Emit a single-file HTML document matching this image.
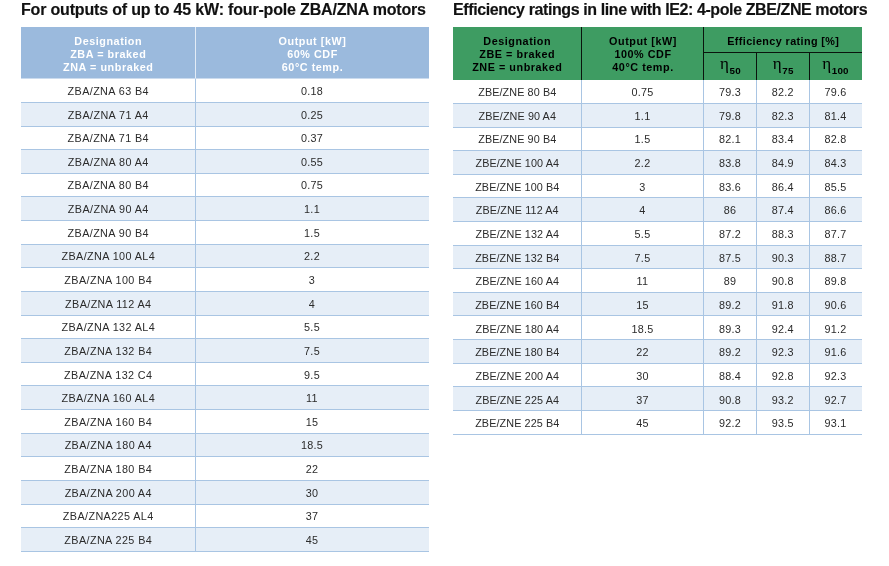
<!DOCTYPE html><html><head><meta charset="utf-8"><title>Motor tables</title><style>
html,body{margin:0;padding:0;background:#fff;}
body{width:889px;height:566px;position:relative;overflow:hidden;font-family:"Liberation Sans",sans-serif;color:#2b2b2b;}
.a{position:absolute;}
.t,.r,.h{will-change:transform;}
.t{position:absolute;white-space:nowrap;font-weight:bold;color:#111;-webkit-text-stroke:0.15px #111;font-size:16px;line-height:20px;letter-spacing:-0.18px;}
.r{position:absolute;left:0;right:0;}
.c{position:absolute;top:0;bottom:0;text-align:center;white-space:nowrap;font-size:10.8px;letter-spacing:0.3px;}
.h{position:absolute;text-align:center;white-space:nowrap;font-weight:bold;font-size:10.8px;line-height:13.2px;letter-spacing:0.55px;}
.l{position:absolute;background:#a9c5e3;}
.eta{font-family:"Liberation Serif",serif;font-weight:normal;font-size:17px;}
.sub{font-size:9.8px;position:relative;top:5.0px;letter-spacing:0.2px;}
</style></head><body>
<div class="t" id="t1" style="left:20.8px;top:-0.5px;">For outputs of up to 45 kW: four-pole ZBA/ZNA motors</div>
<div class="t" id="t2" style="left:453.2px;top:-0.5px;letter-spacing:-0.4px;">Efficiency ratings in line with IE2: 4-pole ZBE/ZNE motors</div>
<div class="a" id="tb1" style="left:21px;top:0;width:407.5px;height:566px;">
<div class="a" style="left:0;width:407.5px;top:27px;height:51px;background:#9bbadd;"></div>
<div class="a" style="left:0;width:407.5px;top:102px;height:24px;background:#e6eef7;"></div>
<div class="a" style="left:0;width:407.5px;top:149px;height:24px;background:#e6eef7;"></div>
<div class="a" style="left:0;width:407.5px;top:196px;height:24px;background:#e6eef7;"></div>
<div class="a" style="left:0;width:407.5px;top:244px;height:23px;background:#e6eef7;"></div>
<div class="a" style="left:0;width:407.5px;top:291px;height:24px;background:#e6eef7;"></div>
<div class="a" style="left:0;width:407.5px;top:338px;height:24px;background:#e6eef7;"></div>
<div class="a" style="left:0;width:407.5px;top:385px;height:24px;background:#e6eef7;"></div>
<div class="a" style="left:0;width:407.5px;top:433px;height:23px;background:#e6eef7;"></div>
<div class="a" style="left:0;width:407.5px;top:480px;height:24px;background:#e6eef7;"></div>
<div class="a" style="left:0;width:407.5px;top:527px;height:24px;background:#e6eef7;"></div>
<div class="l" style="left:0;width:407.5px;top:102px;height:1px;"></div>
<div class="l" style="left:0;width:407.5px;top:126px;height:1px;"></div>
<div class="l" style="left:0;width:407.5px;top:149px;height:1px;"></div>
<div class="l" style="left:0;width:407.5px;top:173px;height:1px;"></div>
<div class="l" style="left:0;width:407.5px;top:196px;height:1px;"></div>
<div class="l" style="left:0;width:407.5px;top:220px;height:1px;"></div>
<div class="l" style="left:0;width:407.5px;top:244px;height:1px;"></div>
<div class="l" style="left:0;width:407.5px;top:267px;height:1px;"></div>
<div class="l" style="left:0;width:407.5px;top:291px;height:1px;"></div>
<div class="l" style="left:0;width:407.5px;top:315px;height:1px;"></div>
<div class="l" style="left:0;width:407.5px;top:338px;height:1px;"></div>
<div class="l" style="left:0;width:407.5px;top:362px;height:1px;"></div>
<div class="l" style="left:0;width:407.5px;top:385px;height:1px;"></div>
<div class="l" style="left:0;width:407.5px;top:409px;height:1px;"></div>
<div class="l" style="left:0;width:407.5px;top:433px;height:1px;"></div>
<div class="l" style="left:0;width:407.5px;top:456px;height:1px;"></div>
<div class="l" style="left:0;width:407.5px;top:480px;height:1px;"></div>
<div class="l" style="left:0;width:407.5px;top:504px;height:1px;"></div>
<div class="l" style="left:0;width:407.5px;top:527px;height:1px;"></div>
<div class="l" style="left:0;width:407.5px;top:551px;height:1px;"></div>
<div class="l" style="left:174px;width:1px;top:78px;height:474px;"></div>
<div class="a" style="left:0;width:407.5px;top:78px;height:1px;background:#cbdbee;"></div><div class="a" style="left:174px;width:1px;top:27px;height:51px;background:#e3ecf6;"></div>
<div class="h" style="color:#fff;left:0;width:174.5px;top:35.2px;">Designation<br>ZBA = braked<br>ZNA = unbraked</div><div class="h" style="color:#fff;left:174.5px;width:233.0px;top:35.2px;">Output [kW]<br>60% CDF<br>60°C temp.</div>
<div class="r" style="top:79px;height:24px;line-height:24px;">
<div class="c" style="left:0px;width:174.5px;letter-spacing:0.4px;">ZBA/ZNA 63 B4</div>
<div class="c" style="left:174.5px;width:233.0px;">0.18</div>
</div>
<div class="r" style="top:103px;height:24px;line-height:24px;">
<div class="c" style="left:0px;width:174.5px;letter-spacing:0.4px;">ZBA/ZNA 71 A4</div>
<div class="c" style="left:174.5px;width:233.0px;">0.25</div>
</div>
<div class="r" style="top:126px;height:24px;line-height:24px;">
<div class="c" style="left:0px;width:174.5px;letter-spacing:0.4px;">ZBA/ZNA 71 B4</div>
<div class="c" style="left:174.5px;width:233.0px;">0.37</div>
</div>
<div class="r" style="top:150px;height:24px;line-height:24px;">
<div class="c" style="left:0px;width:174.5px;letter-spacing:0.4px;">ZBA/ZNA 80 A4</div>
<div class="c" style="left:174.5px;width:233.0px;">0.55</div>
</div>
<div class="r" style="top:173px;height:24px;line-height:24px;">
<div class="c" style="left:0px;width:174.5px;letter-spacing:0.4px;">ZBA/ZNA 80 B4</div>
<div class="c" style="left:174.5px;width:233.0px;">0.75</div>
</div>
<div class="r" style="top:197px;height:24px;line-height:24px;">
<div class="c" style="left:0px;width:174.5px;letter-spacing:0.4px;">ZBA/ZNA 90 A4</div>
<div class="c" style="left:174.5px;width:233.0px;">1.1</div>
</div>
<div class="r" style="top:221px;height:24px;line-height:24px;">
<div class="c" style="left:0px;width:174.5px;letter-spacing:0.4px;">ZBA/ZNA 90 B4</div>
<div class="c" style="left:174.5px;width:233.0px;">1.5</div>
</div>
<div class="r" style="top:244px;height:24px;line-height:24px;">
<div class="c" style="left:0px;width:174.5px;letter-spacing:0.4px;">ZBA/ZNA 100 AL4</div>
<div class="c" style="left:174.5px;width:233.0px;">2.2</div>
</div>
<div class="r" style="top:268px;height:24px;line-height:24px;">
<div class="c" style="left:0px;width:174.5px;letter-spacing:0.4px;">ZBA/ZNA 100 B4</div>
<div class="c" style="left:174.5px;width:233.0px;">3</div>
</div>
<div class="r" style="top:292px;height:24px;line-height:24px;">
<div class="c" style="left:0px;width:174.5px;letter-spacing:0.4px;">ZBA/ZNA 112 A4</div>
<div class="c" style="left:174.5px;width:233.0px;">4</div>
</div>
<div class="r" style="top:315px;height:24px;line-height:24px;">
<div class="c" style="left:0px;width:174.5px;letter-spacing:0.4px;">ZBA/ZNA 132 AL4</div>
<div class="c" style="left:174.5px;width:233.0px;">5.5</div>
</div>
<div class="r" style="top:339px;height:24px;line-height:24px;">
<div class="c" style="left:0px;width:174.5px;letter-spacing:0.4px;">ZBA/ZNA 132 B4</div>
<div class="c" style="left:174.5px;width:233.0px;">7.5</div>
</div>
<div class="r" style="top:363px;height:24px;line-height:24px;">
<div class="c" style="left:0px;width:174.5px;letter-spacing:0.4px;">ZBA/ZNA 132 C4</div>
<div class="c" style="left:174.5px;width:233.0px;">9.5</div>
</div>
<div class="r" style="top:386px;height:24px;line-height:24px;">
<div class="c" style="left:0px;width:174.5px;letter-spacing:0.4px;">ZBA/ZNA 160 AL4</div>
<div class="c" style="left:174.5px;width:233.0px;">11</div>
</div>
<div class="r" style="top:410px;height:24px;line-height:24px;">
<div class="c" style="left:0px;width:174.5px;letter-spacing:0.4px;">ZBA/ZNA 160 B4</div>
<div class="c" style="left:174.5px;width:233.0px;">15</div>
</div>
<div class="r" style="top:433px;height:24px;line-height:24px;">
<div class="c" style="left:0px;width:174.5px;letter-spacing:0.4px;">ZBA/ZNA 180 A4</div>
<div class="c" style="left:174.5px;width:233.0px;">18.5</div>
</div>
<div class="r" style="top:457px;height:24px;line-height:24px;">
<div class="c" style="left:0px;width:174.5px;letter-spacing:0.4px;">ZBA/ZNA 180 B4</div>
<div class="c" style="left:174.5px;width:233.0px;">22</div>
</div>
<div class="r" style="top:481px;height:24px;line-height:24px;">
<div class="c" style="left:0px;width:174.5px;letter-spacing:0.4px;">ZBA/ZNA 200 A4</div>
<div class="c" style="left:174.5px;width:233.0px;">30</div>
</div>
<div class="r" style="top:504px;height:24px;line-height:24px;">
<div class="c" style="left:0px;width:174.5px;letter-spacing:0.4px;">ZBA/ZNA225 AL4</div>
<div class="c" style="left:174.5px;width:233.0px;">37</div>
</div>
<div class="r" style="top:528px;height:24px;line-height:24px;">
<div class="c" style="left:0px;width:174.5px;letter-spacing:0.4px;">ZBA/ZNA 225 B4</div>
<div class="c" style="left:174.5px;width:233.0px;">45</div>
</div>
</div>
<div class="a" id="tb2" style="left:453px;top:0;width:409px;height:566px;">
<div class="a" style="left:0;width:409px;top:27px;height:53px;background:#3e9c62;"></div>
<div class="a" style="left:0;width:409px;top:103px;height:24px;background:#e6eef7;"></div>
<div class="a" style="left:0;width:409px;top:150px;height:24px;background:#e6eef7;"></div>
<div class="a" style="left:0;width:409px;top:197px;height:24px;background:#e6eef7;"></div>
<div class="a" style="left:0;width:409px;top:245px;height:23px;background:#e6eef7;"></div>
<div class="a" style="left:0;width:409px;top:292px;height:23px;background:#e6eef7;"></div>
<div class="a" style="left:0;width:409px;top:339px;height:24px;background:#e6eef7;"></div>
<div class="a" style="left:0;width:409px;top:386px;height:24px;background:#e6eef7;"></div>
<div class="l" style="left:0;width:409px;top:103px;height:1px;"></div>
<div class="l" style="left:0;width:409px;top:127px;height:1px;"></div>
<div class="l" style="left:0;width:409px;top:150px;height:1px;"></div>
<div class="l" style="left:0;width:409px;top:174px;height:1px;"></div>
<div class="l" style="left:0;width:409px;top:197px;height:1px;"></div>
<div class="l" style="left:0;width:409px;top:221px;height:1px;"></div>
<div class="l" style="left:0;width:409px;top:245px;height:1px;"></div>
<div class="l" style="left:0;width:409px;top:268px;height:1px;"></div>
<div class="l" style="left:0;width:409px;top:292px;height:1px;"></div>
<div class="l" style="left:0;width:409px;top:315px;height:1px;"></div>
<div class="l" style="left:0;width:409px;top:339px;height:1px;"></div>
<div class="l" style="left:0;width:409px;top:363px;height:1px;"></div>
<div class="l" style="left:0;width:409px;top:386px;height:1px;"></div>
<div class="l" style="left:0;width:409px;top:410px;height:1px;"></div>
<div class="l" style="left:0;width:409px;top:434px;height:1px;"></div>
<div class="l" style="left:128px;width:1px;top:80px;height:355px;"></div>
<div class="l" style="left:250px;width:1px;top:80px;height:355px;"></div>
<div class="l" style="left:303px;width:1px;top:80px;height:355px;"></div>
<div class="l" style="left:356px;width:1px;top:80px;height:355px;"></div>
<div class="a" style="left:128px;width:1px;top:27px;height:53px;background:#0a140d;"></div><div class="a" style="left:250px;width:1px;top:27px;height:53px;background:#0a140d;"></div><div class="a" style="left:303px;width:1px;top:52px;height:28px;background:#0a140d;"></div><div class="a" style="left:356px;width:1px;top:52px;height:28px;background:#0a140d;"></div><div class="a" style="left:250px;width:158.5px;top:52px;height:1px;background:#0a140d;"></div>
<div class="h" style="color:#000;left:0;width:128.5px;top:35.2px;">Designation<br>ZBE = braked<br>ZNE = unbraked</div><div class="h" style="color:#000;left:128.5px;width:122.0px;top:35.2px;">Output [kW]<br>100% CDF<br>40°C temp.</div><div class="h" style="color:#000;left:250.5px;width:158.5px;top:35.4px;letter-spacing:0.4px;">Efficiency rating [%]</div><div class="h" style="color:#000;left:250.5px;width:53.0px;top:54.0px;line-height:20px;"><span class="eta">η</span><span class="sub">50</span></div><div class="h" style="color:#000;left:303.5px;width:52.5px;top:54.0px;line-height:20px;"><span class="eta">η</span><span class="sub">75</span></div><div class="h" style="color:#000;left:356px;width:53px;top:54.0px;line-height:20px;"><span class="eta">η</span><span class="sub">100</span></div>
<div class="r" style="top:80px;height:24px;line-height:24px;">
<div class="c" style="left:0px;width:128.5px;letter-spacing:0.1px;">ZBE/ZNE 80 B4</div>
<div class="c" style="left:128.5px;width:122.0px;">0.75</div>
<div class="c" style="left:250.5px;width:53.0px;">79.3</div>
<div class="c" style="left:303.5px;width:52.5px;">82.2</div>
<div class="c" style="left:356px;width:53px;">79.6</div>
</div>
<div class="r" style="top:104px;height:24px;line-height:24px;">
<div class="c" style="left:0px;width:128.5px;letter-spacing:0.1px;">ZBE/ZNE 90 A4</div>
<div class="c" style="left:128.5px;width:122.0px;">1.1</div>
<div class="c" style="left:250.5px;width:53.0px;">79.8</div>
<div class="c" style="left:303.5px;width:52.5px;">82.3</div>
<div class="c" style="left:356px;width:53px;">81.4</div>
</div>
<div class="r" style="top:127px;height:24px;line-height:24px;">
<div class="c" style="left:0px;width:128.5px;letter-spacing:0.1px;">ZBE/ZNE 90 B4</div>
<div class="c" style="left:128.5px;width:122.0px;">1.5</div>
<div class="c" style="left:250.5px;width:53.0px;">82.1</div>
<div class="c" style="left:303.5px;width:52.5px;">83.4</div>
<div class="c" style="left:356px;width:53px;">82.8</div>
</div>
<div class="r" style="top:151px;height:24px;line-height:24px;">
<div class="c" style="left:0px;width:128.5px;letter-spacing:0.1px;">ZBE/ZNE 100 A4</div>
<div class="c" style="left:128.5px;width:122.0px;">2.2</div>
<div class="c" style="left:250.5px;width:53.0px;">83.8</div>
<div class="c" style="left:303.5px;width:52.5px;">84.9</div>
<div class="c" style="left:356px;width:53px;">84.3</div>
</div>
<div class="r" style="top:175px;height:24px;line-height:24px;">
<div class="c" style="left:0px;width:128.5px;letter-spacing:0.1px;">ZBE/ZNE 100 B4</div>
<div class="c" style="left:128.5px;width:122.0px;">3</div>
<div class="c" style="left:250.5px;width:53.0px;">83.6</div>
<div class="c" style="left:303.5px;width:52.5px;">86.4</div>
<div class="c" style="left:356px;width:53px;">85.5</div>
</div>
<div class="r" style="top:198px;height:24px;line-height:24px;">
<div class="c" style="left:0px;width:128.5px;letter-spacing:0.1px;">ZBE/ZNE 112 A4</div>
<div class="c" style="left:128.5px;width:122.0px;">4</div>
<div class="c" style="left:250.5px;width:53.0px;">86</div>
<div class="c" style="left:303.5px;width:52.5px;">87.4</div>
<div class="c" style="left:356px;width:53px;">86.6</div>
</div>
<div class="r" style="top:222px;height:24px;line-height:24px;">
<div class="c" style="left:0px;width:128.5px;letter-spacing:0.1px;">ZBE/ZNE 132 A4</div>
<div class="c" style="left:128.5px;width:122.0px;">5.5</div>
<div class="c" style="left:250.5px;width:53.0px;">87.2</div>
<div class="c" style="left:303.5px;width:52.5px;">88.3</div>
<div class="c" style="left:356px;width:53px;">87.7</div>
</div>
<div class="r" style="top:246px;height:24px;line-height:24px;">
<div class="c" style="left:0px;width:128.5px;letter-spacing:0.1px;">ZBE/ZNE 132 B4</div>
<div class="c" style="left:128.5px;width:122.0px;">7.5</div>
<div class="c" style="left:250.5px;width:53.0px;">87.5</div>
<div class="c" style="left:303.5px;width:52.5px;">90.3</div>
<div class="c" style="left:356px;width:53px;">88.7</div>
</div>
<div class="r" style="top:269px;height:24px;line-height:24px;">
<div class="c" style="left:0px;width:128.5px;letter-spacing:0.1px;">ZBE/ZNE 160 A4</div>
<div class="c" style="left:128.5px;width:122.0px;">11</div>
<div class="c" style="left:250.5px;width:53.0px;">89</div>
<div class="c" style="left:303.5px;width:52.5px;">90.8</div>
<div class="c" style="left:356px;width:53px;">89.8</div>
</div>
<div class="r" style="top:293px;height:24px;line-height:24px;">
<div class="c" style="left:0px;width:128.5px;letter-spacing:0.1px;">ZBE/ZNE 160 B4</div>
<div class="c" style="left:128.5px;width:122.0px;">15</div>
<div class="c" style="left:250.5px;width:53.0px;">89.2</div>
<div class="c" style="left:303.5px;width:52.5px;">91.8</div>
<div class="c" style="left:356px;width:53px;">90.6</div>
</div>
<div class="r" style="top:317px;height:24px;line-height:24px;">
<div class="c" style="left:0px;width:128.5px;letter-spacing:0.1px;">ZBE/ZNE 180 A4</div>
<div class="c" style="left:128.5px;width:122.0px;">18.5</div>
<div class="c" style="left:250.5px;width:53.0px;">89.3</div>
<div class="c" style="left:303.5px;width:52.5px;">92.4</div>
<div class="c" style="left:356px;width:53px;">91.2</div>
</div>
<div class="r" style="top:340px;height:24px;line-height:24px;">
<div class="c" style="left:0px;width:128.5px;letter-spacing:0.1px;">ZBE/ZNE 180 B4</div>
<div class="c" style="left:128.5px;width:122.0px;">22</div>
<div class="c" style="left:250.5px;width:53.0px;">89.2</div>
<div class="c" style="left:303.5px;width:52.5px;">92.3</div>
<div class="c" style="left:356px;width:53px;">91.6</div>
</div>
<div class="r" style="top:364px;height:24px;line-height:24px;">
<div class="c" style="left:0px;width:128.5px;letter-spacing:0.1px;">ZBE/ZNE 200 A4</div>
<div class="c" style="left:128.5px;width:122.0px;">30</div>
<div class="c" style="left:250.5px;width:53.0px;">88.4</div>
<div class="c" style="left:303.5px;width:52.5px;">92.8</div>
<div class="c" style="left:356px;width:53px;">92.3</div>
</div>
<div class="r" style="top:388px;height:24px;line-height:24px;">
<div class="c" style="left:0px;width:128.5px;letter-spacing:0.1px;">ZBE/ZNE 225 A4</div>
<div class="c" style="left:128.5px;width:122.0px;">37</div>
<div class="c" style="left:250.5px;width:53.0px;">90.8</div>
<div class="c" style="left:303.5px;width:52.5px;">93.2</div>
<div class="c" style="left:356px;width:53px;">92.7</div>
</div>
<div class="r" style="top:411px;height:24px;line-height:24px;">
<div class="c" style="left:0px;width:128.5px;letter-spacing:0.1px;">ZBE/ZNE 225 B4</div>
<div class="c" style="left:128.5px;width:122.0px;">45</div>
<div class="c" style="left:250.5px;width:53.0px;">92.2</div>
<div class="c" style="left:303.5px;width:52.5px;">93.5</div>
<div class="c" style="left:356px;width:53px;">93.1</div>
</div>
</div>
</body></html>
